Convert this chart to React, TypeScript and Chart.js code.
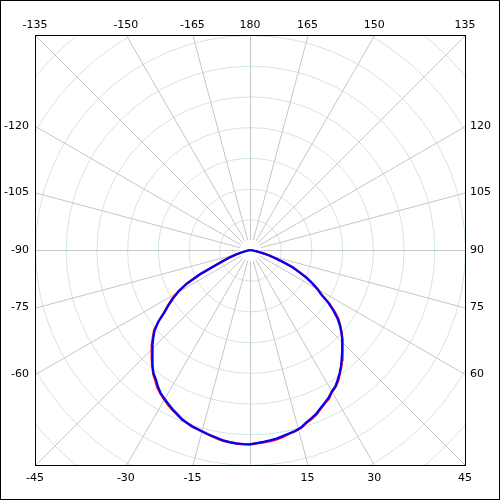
import React, { useEffect, useRef } from "react";
import { Chart, registerables } from "chart.js";

Chart.register(...registerables);

// Angles in degrees (0 = bottom, +90 = right, ±180 = top)
const ANGLES = [
  -90, -88, -86, -84, -82, -80, -78, -76, -74, -72, -70, -68, -66, -64, -62, -60, -58, -56, -54, -52,
  -50, -48, -46, -44, -42, -40, -38, -36, -34, -32, -30, -28, -26, -24, -22, -20, -18, -16, -14, -12,
  -10, -8, -6, -4, -2, 0, 2, 4, 6, 8, 10, 12, 14, 16, 18, 20, 22, 24, 26, 28,
  30, 32, 34, 36, 38, 40, 42, 44, 46, 48, 50, 52, 54, 56, 58, 60, 62, 64, 66, 68,
  70, 72, 74, 76, 78, 80, 82, 84, 86, 88, 90,
];

const BLUE_R = [
  0, 0, 0, 0, 0, 0, 0, 1.3, 2.9, 4.9, 6.8, 9.1, 12.4, 18.2, 23.1, 26.7, 29.3, 31.9, 34.3, 37.8,
  40.5, 42.3, 44.1, 45.7, 47.5, 49.3, 51.0, 52.1, 53.6, 54.9, 55.8, 56.7, 57.6, 58.4, 59.3, 59.9, 60.4, 60.8, 61.2, 61.7,
  62.1, 62.6, 62.9, 63.1, 63.2, 63.3, 62.9, 62.6, 62.3, 62.0, 61.5, 61.1, 60.7, 60.1, 59.1, 58.3, 57.5, 56.4, 55.4, 54.5,
  53.2, 52.4, 51.0, 49.6, 48.1, 46.4, 44.8, 43.2, 41.7, 40.0, 38.2, 36.1, 33.5, 30.8, 27.3, 25.2, 22.8, 20.3, 17.3, 14.8,
  11.4, 8.5, 6.5, 4.5, 2.6, 1.0, 0, 0, 0, 0, 0,
];

const RED_R = [
  0, 0, 0, 0, 0, 0, 0, 1.3, 3.0, 5.1, 7.0, 9.4, 12.6, 18.6, 23.5, 27.0, 29.8, 32.2, 34.6, 37.9,
  40.8, 42.6, 44.5, 46.1, 47.8, 49.5, 51.2, 52.5, 54.0, 55.1, 56.1, 57.0, 57.9, 58.6, 59.5, 60.0, 60.6, 60.9, 61.3, 61.8,
  62.3, 62.8, 63.0, 63.2, 63.3, 63.3, 63.0, 62.8, 62.6, 62.3, 61.8, 61.2, 60.8, 60.3, 59.3, 58.6, 57.8, 56.6, 55.6, 54.8,
  53.4, 52.6, 51.4, 49.8, 48.3, 46.7, 45.0, 43.4, 41.9, 40.2, 38.4, 36.6, 34.0, 31.2, 27.6, 25.5, 23.0, 20.5, 17.5, 15.0,
  11.6, 8.7, 6.6, 4.6, 2.7, 1.0, 0, 0, 0, 0, 0,
];

const TOP_TICKS = [-135, -150, -165, 180, 165, 150, 135];
const BOTTOM_TICKS = [-45, -30, -15, 15, 30, 45];
const LEFT_TICKS = [-120, -105, -90, -75, -60];
const RIGHT_TICKS = [120, 105, 90, 75, 60];

const RING_STEP = 10;
const RING_COUNT = 9;
const SPOKE_STEP = 15;
const R_EDGE = 70;

const rad = (d: number) => (d * Math.PI) / 180;

function toXY(angles: number[], r: number[]) {
  return angles.map((a, i) => ({ x: r[i] * Math.sin(rad(a)), y: -r[i] * Math.cos(rad(a)) }));
}

function edgePoint(a: number) {
  const s = Math.sin(rad(a));
  const c = -Math.cos(rad(a));
  const t = R_EDGE / Math.max(Math.abs(s), Math.abs(c));
  return { x: s * t, y: c * t };
}

const FONT = "11px 'DejaVu Sans'";

const polarPlugin = {
  id: "polarGrid",
  beforeDatasetsDraw(chart: any) {
    const { ctx, chartArea, scales } = chart;
    const { left, top, right, bottom } = chartArea;
    const xs = scales.x;
    const ys = scales.y;
    const cx = xs.getPixelForValue(0);
    const cy = ys.getPixelForValue(0);
    const unit = xs.getPixelForValue(1) - cx;
    ctx.save();
    ctx.beginPath();
    ctx.rect(left, top, right - left, bottom - top);
    ctx.clip();
    ctx.lineWidth = 1;
    ctx.strokeStyle = "#cde5ec";
    for (let k = 1; k <= RING_COUNT; k++) {
      ctx.beginPath();
      ctx.arc(cx + 0.5, cy + 0.5, k * RING_STEP * unit, 0, Math.PI * 2);
      ctx.stroke();
    }
    ctx.strokeStyle = "#c6c6c6";
    for (let a = -180; a < 180; a += SPOKE_STEP) {
      const s = Math.sin(rad(a));
      const c = -Math.cos(rad(a));
      const r0 = 3.5;
      const r1 = 120;
      ctx.beginPath();
      ctx.moveTo(xs.getPixelForValue(r0 * s) + 0.5, ys.getPixelForValue(r0 * c) + 0.5);
      ctx.lineTo(xs.getPixelForValue(r1 * s) + 0.5, ys.getPixelForValue(r1 * c) + 0.5);
      ctx.stroke();
    }
    ctx.restore();
  },
  afterDraw(chart: any) {
    const { ctx, chartArea, scales, width, height } = chart;
    const { left, top, right, bottom } = chartArea;
    const xs = scales.x;
    const ys = scales.y;
    ctx.save();
    ctx.strokeStyle = "#000";
    ctx.lineWidth = 1;
    ctx.strokeRect(Math.round(left) + 0.5, Math.round(top) + 0.5, Math.round(right - left), Math.round(bottom - top));
    ctx.strokeRect(0.5, 0.5, width - 1, height - 1);
    ctx.fillStyle = "#000";
    ctx.font = FONT;
    ctx.textBaseline = "middle";
    ctx.textAlign = "center";
    TOP_TICKS.forEach((a) => {
      const p = edgePoint(a);
      ctx.fillText(String(a), xs.getPixelForValue(p.x), top - 10);
    });
    BOTTOM_TICKS.forEach((a) => {
      const p = edgePoint(a);
      ctx.fillText(String(a), xs.getPixelForValue(p.x), bottom + 13);
    });
    ctx.textAlign = "right";
    LEFT_TICKS.forEach((a) => {
      const p = edgePoint(a);
      ctx.fillText(String(a), left - 6, ys.getPixelForValue(p.y));
    });
    ctx.textAlign = "left";
    RIGHT_TICKS.forEach((a) => {
      const p = edgePoint(a);
      ctx.fillText(String(a), right + 5, ys.getPixelForValue(p.y));
    });
    ctx.restore();
  },
};

export default function App() {
  const ref = useRef<HTMLCanvasElement | null>(null);
  useEffect(() => {
    if (!ref.current) return;
    const chart = new Chart(ref.current, {
      type: "scatter",
      data: {
        datasets: [
          {
            label: "blue",
            data: toXY(ANGLES, BLUE_R),
            showLine: true,
            borderColor: "#0000ff",
            backgroundColor: "#0000ff",
            borderWidth: 2.2,
            pointRadius: 0,
            tension: 0,
          },
          {
            label: "red",
            data: toXY(ANGLES, RED_R),
            showLine: true,
            borderColor: "#ff0000",
            backgroundColor: "#ff0000",
            borderWidth: 2.2,
            pointRadius: 0,
            tension: 0,
          },
        ],
      },
      options: {
        responsive: false,
        animation: false,
        layout: { padding: { left: 35, top: 35, right: 35, bottom: 35 } },
        plugins: { legend: { display: false }, tooltip: { enabled: false } },
        scales: {
          x: { type: "linear", min: -R_EDGE, max: R_EDGE, display: false },
          y: { type: "linear", min: -R_EDGE, max: R_EDGE, display: false },
        },
      },
      plugins: [polarPlugin],
    });
    return () => chart.destroy();
  }, []);
  return (
    <div style={{ position: "fixed", left: 0, top: 0, width: 500, height: 500, background: "#fff" }}>
      <canvas ref={ref} width={500} height={500} style={{ display: "block" }} />
    </div>
  );
}
